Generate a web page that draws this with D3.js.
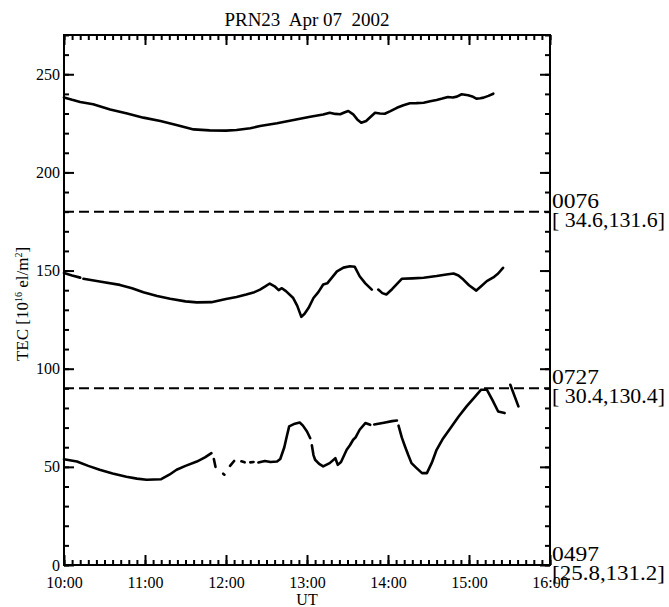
<!DOCTYPE html>
<html lang="en">
<head>
<meta charset="utf-8">
<script src="https://d3js.org/d3.v7.min.js"></script>
<style>
  body { margin: 0; background: #fff; }
  text { font-family: "Liberation Serif", "Times New Roman", serif; fill: #000; }
</style>
</head>
<body>
<div id="graph"></div>
<script>

// ---- data (time in decimal UT hours, TEC values with offsets; null = gap)
var title = "PRN23  Apr 07  2002";
var xTicks = [10, 11, 12, 13, 14, 15, 16];
var yTicks = [0, 50, 100, 150, 200, 250];
var baseLines = [180, 90, 0];
var prnLabels = ["0076", "0727", "0497"];
var posLabels = ["[ 34.6,131.6]", "[ 30.4,130.4]", "[25.8,131.2]"];

var t1 = [10.0,10.1,10.2,10.36,10.57,10.78,10.98,11.19,11.4,11.6,11.8,12.0,12.13,12.3,12.42,12.63,12.85,13.04,13.2,13.28,13.35,13.41,13.46,13.51,13.57,13.62,13.67,13.73,13.79,13.84,13.9,13.96,14.03,14.11,14.19,14.27,14.35,14.44,14.52,14.6,14.67,14.74,14.8,14.85,14.91,14.99,15.04,15.09,15.14,15.18,15.24,15.3];
var v1 = [238.2,237,235.9,234.7,232.1,230,227.9,226.2,224,221.9,221.4,221.3,221.6,222.5,223.6,225,226.8,228.4,229.5,230.4,229.8,229.6,230.5,231.3,229.6,227,225.3,226.2,228.5,230.4,230,229.9,231.2,232.9,234.2,235.2,235.3,235.5,236.2,236.9,237.6,238.4,238.2,238.6,239.8,239.3,238.7,237.6,237.8,238.1,239,240.1];

var t2 = [10.0,10.1,10.2,10.22,10.24,10.44,10.69,10.84,10.98,11.15,11.31,11.5,11.64,11.82,12.0,12.13,12.25,12.35,12.42,12.48,12.54,12.6,12.65,12.69,12.74,12.83,12.88,12.93,12.97,13.02,13.08,13.14,13.2,13.25,13.3,13.37,13.45,13.53,13.59,13.65,13.72,13.8,13.84,13.88,13.93,13.98,14.05,14.17,14.3,14.44,14.6,14.72,14.81,14.87,14.93,15.0,15.09,15.15,15.22,15.3,15.36,15.42];
var v2 = [148.8,147.5,146.4,null,145.8,144.4,142.7,141,138.9,137,135.6,134.3,133.8,133.9,135.5,136.5,137.8,139,140.3,141.8,143.4,142,140,141,139.5,136,132,126.4,128,131,136,139,142.9,143.5,146,149.6,151.5,152.2,151.9,147.1,143.5,140.3,null,140.3,138.5,137.8,140.5,145.8,146,146.3,147.2,148,148.5,147.5,145.4,142.5,139.8,142,144.6,146.5,148.5,151.4];

var t3 = [10.0,10.16,10.3,10.44,10.6,10.77,10.9,11.02,11.2,11.3,11.39,11.5,11.64,11.74,11.82,11.83,
  11.85,11.87,11.9,11.965,11.98,12.0,12.05,12.1,12.15,12.19,12.23,12.26,12.3,12.34,12.37,
  12.4,12.48,12.55,12.63,12.67,12.72,12.75,12.78,12.85,12.91,12.95,13.0,13.04,13.05,
  13.06,13.08,13.1,13.15,13.2,13.28,13.35,13.38,13.42,13.49,13.53,13.57,13.6,13.65,13.72,13.78,13.8,
  13.83,13.95,14.05,14.11,14.12,
  14.13,14.17,14.21,14.25,14.29,14.35,14.42,14.48,14.54,14.6,14.68,14.77,14.87,14.97,15.07,15.15,15.22,15.29,15.36,15.44,15.47,
  15.51,15.61];
var v3 = [53.9,52.7,50.5,48.5,46.6,45,44,43.4,43.7,46,48.5,50.5,52.7,54.8,57,null,
  54,50,null,46.5,46,null,50.5,53,null,52.8,52.3,null,52.3,52.5,null,
  52.2,53,52.5,52.7,54,60,65.5,70.6,72,72.6,71,68,64.6,null,
  61,56,53.6,51.5,50.2,51.9,54.4,51,52.5,58.7,61,63.8,65,68.9,72.3,71.4,null,
  71.6,72.5,73.3,73.6,null,
  71,65,60.4,56,51.9,49.5,46.8,46.8,52,58.7,64.5,69.7,75.5,80.8,85.5,89.3,89.3,84,78.2,77.4,null,
  91.8,80.8];

var series = [[t1, v1], [t2, v2], [t3, v3]];

// ---- layout
var W = 669, H = 607;
var L = 64, R = 550, T = 35, B = 565;

var svg = d3.select('#graph').append('svg').attr('width', W).attr('height', H);

var x = d3.scaleLinear().domain([10, 16]).range([L, R]);
var y = d3.scaleLinear().domain([0, 270]).range([B, T]);

var minorX = d3.range(0, 61).map(function(i) { return 10 + i / 10; });
var minorY = d3.range(0, 28).map(function(i) { return i * 10; });
var fmtX = function(d) { return (d < 10 ? "0" : "") + d + ":00"; };

function styleAxis(g) {
  g.select('.domain').remove();
  g.selectAll('.tick line').attr('stroke', '#000').attr('stroke-width', 2);
  g.selectAll('.tick text').style('font-family', '"Liberation Serif", serif').style('font-size', '16px').attr('fill', '#000');
}

// bottom
svg.append('g').attr('transform', 'translate(0,' + B + ')')
  .call(d3.axisBottom(x).tickValues(minorX).tickSize(-5).tickFormat('')).call(styleAxis);
svg.append('g').attr('transform', 'translate(0,' + B + ')')
  .call(d3.axisBottom(x).tickValues(xTicks).tickSize(-10).tickPadding(12).tickFormat(fmtX)).call(styleAxis);
// top
svg.append('g').attr('transform', 'translate(0,' + T + ')')
  .call(d3.axisTop(x).tickValues(minorX).tickSize(-5).tickFormat('')).call(styleAxis);
svg.append('g').attr('transform', 'translate(0,' + T + ')')
  .call(d3.axisTop(x).tickValues(xTicks).tickSize(-10).tickFormat('')).call(styleAxis);
// left
svg.append('g').attr('transform', 'translate(' + L + ',0)')
  .call(d3.axisLeft(y).tickValues(minorY).tickSize(-5).tickFormat('')).call(styleAxis);
svg.append('g').attr('transform', 'translate(' + L + ',0)')
  .call(d3.axisLeft(y).tickValues(yTicks).tickSize(-10).tickPadding(4).tickFormat(d3.format('d'))).call(styleAxis);
// right
svg.append('g').attr('transform', 'translate(' + R + ',0)')
  .call(d3.axisRight(y).tickValues(minorY).tickSize(-5).tickFormat('')).call(styleAxis);
svg.append('g').attr('transform', 'translate(' + R + ',0)')
  .call(d3.axisRight(y).tickValues(yTicks).tickSize(-10).tickFormat('')).call(styleAxis);

// frame
svg.append('rect').attr('x', L).attr('y', T).attr('width', R - L).attr('height', B - T)
  .attr('fill', 'none').attr('stroke', '#000').attr('stroke-width', 2);

// dashed base lines
svg.selectAll('.base').data(baseLines.filter(function(d) { return d > 0; })).enter().append('line')
  .attr('class', 'base')
  .attr('x1', L).attr('x2', R)
  .attr('y1', function(d) { return y(d); }).attr('y2', function(d) { return y(d); })
  .attr('stroke', '#000').attr('stroke-width', 2).attr('stroke-dasharray', '10,5');

// curves
var line = d3.line()
  .defined(function(d) { return d[1] !== null; })
  .x(function(d) { return x(d[0]); })
  .y(function(d) { return y(d[1]); });

series.forEach(function(s) {
  var pts = s[0].map(function(t, i) { return [t, s[1][i]]; });
  svg.append('path').datum(pts)
    .attr('d', line)
    .attr('fill', 'none').attr('stroke', '#000').attr('stroke-width', 2.6)
    .attr('stroke-linejoin', 'round').attr('stroke-linecap', 'round');
});

// right-hand labels
baseLines.forEach(function(b, i) {
  var yy = y(b);
  svg.append('text').attr('x', R + 2).attr('y', yy - 4)
    .style('font-size', '20px').attr('textLength', 47).attr('lengthAdjust', 'spacingAndGlyphs')
    .text(prnLabels[i]);
  svg.append('text').attr('x', R + 2).attr('y', yy + 15)
    .style('font-size', '22px').style('white-space', 'pre')
    .attr('textLength', 113).attr('lengthAdjust', 'spacingAndGlyphs')
    .text(posLabels[i]);
});

// title and axis titles
svg.append('text').attr('x', (L + R) / 2).attr('y', 26).attr('text-anchor', 'middle')
  .style('font-size', '19px').style('white-space', 'pre').text(title);

svg.append('text').attr('x', (L + R) / 2).attr('y', 605).attr('text-anchor', 'middle')
  .style('font-size', '16px').text('UT');

var yl = svg.append('text').attr('transform', 'translate(28,304) rotate(-90)')
  .attr('text-anchor', 'middle').style('font-size', '17px');
yl.append('tspan').text('TEC [10');
yl.append('tspan').attr('dy', -6).style('font-size', '10px').text('16');
yl.append('tspan').attr('dy', 6).text(' el/m');
yl.append('tspan').attr('dy', -6).style('font-size', '10px').text('2');
yl.append('tspan').attr('dy', 6).text(']');

</script>
</body>
</html>
